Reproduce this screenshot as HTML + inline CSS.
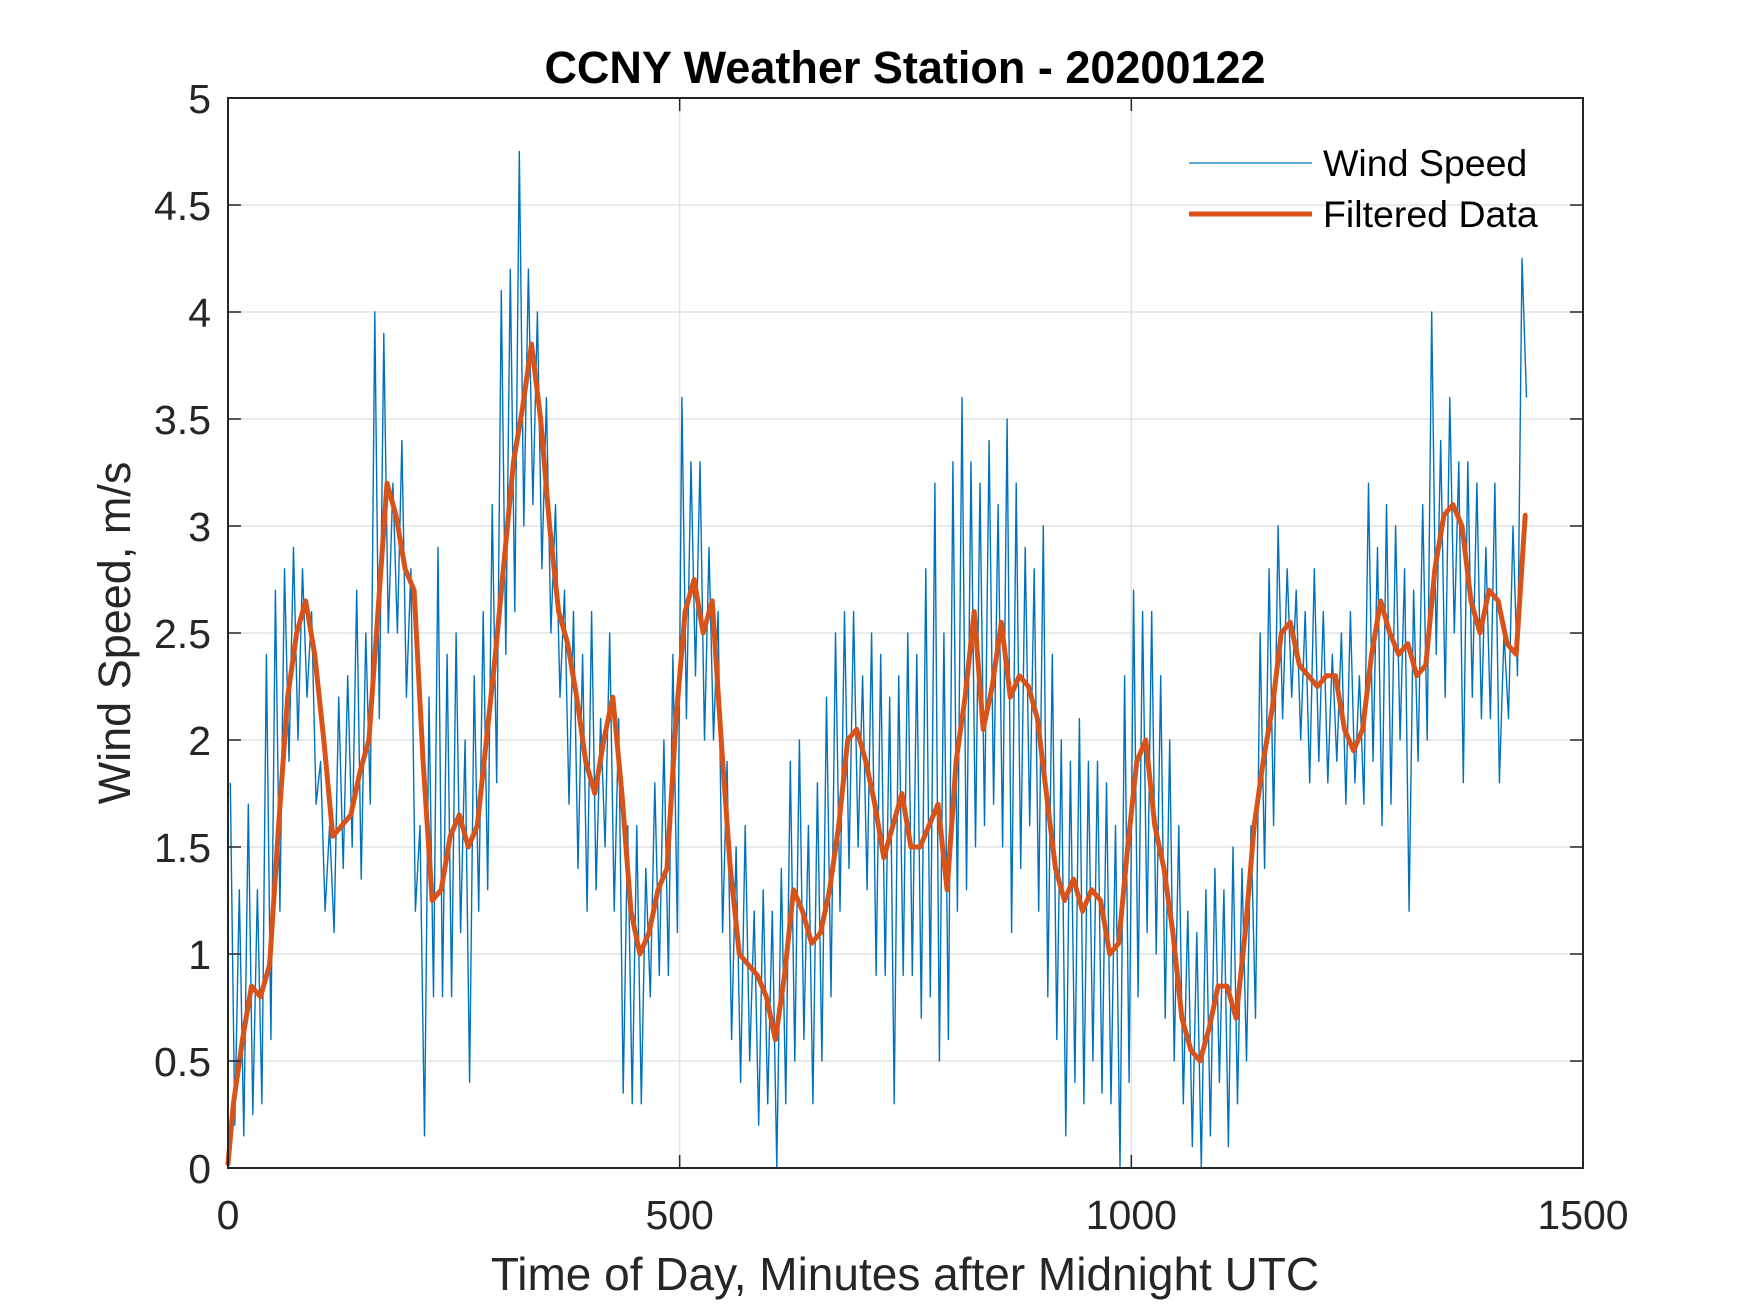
<!DOCTYPE html>
<html><head><meta charset="utf-8"><style>
html,body{margin:0;padding:0;background:#fff;}
svg{display:block;font-family:"Liberation Sans",Arial,sans-serif;}
</style></head><body>
<svg id="chart" width="1750" height="1313" viewBox="0 0 1750 1313" xmlns="http://www.w3.org/2000/svg">
<rect width="1750" height="1313" fill="#fff"/>
<g id="grid"></g>
<g id="series"></g>
<g id="axes"></g>
<text x="905" y="83" text-anchor="middle" font-size="45" font-weight="bold" fill="#000">CCNY Weather Station - 20200122</text>
<text x="905" y="1290" text-anchor="middle" font-size="46" fill="#262626">Time of Day, Minutes after Midnight UTC</text>
<text transform="translate(130,633) rotate(-90)" text-anchor="middle" font-size="45" fill="#262626">Wind Speed, m/s</text>
<g>
<line x1="1189" y1="163" x2="1312" y2="163" stroke="#0072BD" stroke-width="1.3"/>
<text x="1323" y="176" font-size="37.5" fill="#000">Wind Speed</text>
<line x1="1189" y1="214" x2="1312" y2="214" stroke="#D95319" stroke-width="5"/>
<text x="1323" y="227" font-size="37.5" fill="#000">Filtered Data</text>
</g>
</svg>
<script>
const xTicks = [0, 500, 1000, 1500];
const yTicks = [0, 0.5, 1, 1.5, 2, 2.5, 3, 3.5, 4, 4.5, 5];
const yTickLabels = ["0","0.5","1","1.5","2","2.5","3","3.5","4","4.5","5"];
const rawBinStart = 0, rawBinWidth = 10;
const rawHigh = [1.8,1.3,1.7,1.3,2.4,2.7,2.8,2.9,2.8,2.6,1.9,1.6,2.2,2.3,2.7,2.5,4.0,3.9,3.2,3.4,2.8,1.6,2.2,2.9,2.4,2.5,2.0,2.3,2.6,3.1,4.1,4.2,4.75,4.2,4.0,3.6,3.1,2.7,2.6,2.4,2.6,2.1,2.5,2.1,1.6,1.6,1.4,1.8,2.0,2.4,3.6,3.3,3.3,2.9,2.6,1.9,1.5,1.6,1.2,1.3,1.2,1.4,1.9,2.0,1.6,1.8,2.2,2.5,2.6,2.6,2.3,2.5,2.4,2.2,2.3,2.5,2.4,2.8,3.2,2.5,3.3,3.6,3.3,3.2,3.4,3.1,3.5,3.2,2.9,2.8,3.0,2.4,2.0,1.9,2.1,1.9,1.9,1.8,1.6,2.3,2.7,2.6,2.6,2.3,2.0,1.6,1.2,1.1,1.3,1.4,1.3,1.5,1.4,1.6,2.5,2.8,3.0,2.8,2.7,2.6,2.8,2.6,2.4,2.5,2.6,2.3,3.2,2.9,3.1,3.0,2.8,2.7,3.1,4.0,3.4,3.6,3.3,3.3,3.2,2.9,3.2,2.5,3.0,4.25];
const rawLow = [0.2,0.15,0.25,0.3,0.6,1.2,1.9,2.0,2.2,1.7,1.2,1.1,1.4,1.5,1.35,1.7,2.1,2.5,2.5,2.2,1.2,0.15,0.8,0.8,0.8,1.1,0.4,1.2,1.3,1.8,2.4,2.6,3.0,3.1,2.8,2.5,2.2,1.7,1.4,1.2,1.3,1.5,1.2,0.35,0.3,0.3,0.8,0.9,0.9,1.1,2.1,2.3,2.0,2.0,1.1,0.6,0.4,0.5,0.2,0.3,0.0,0.3,0.5,0.6,0.3,0.5,0.8,1.2,1.4,1.5,1.3,0.9,0.9,0.3,0.9,0.9,0.7,0.8,0.5,0.6,1.2,1.3,1.5,1.6,1.7,1.5,1.1,1.4,1.6,1.2,0.8,0.6,0.15,0.4,0.3,0.5,0.35,0.3,0.0,0.4,0.8,1.1,1.0,0.7,0.5,0.3,0.1,0.0,0.15,0.4,0.1,0.3,0.5,0.7,1.4,1.6,2.1,2.2,2.0,1.8,1.9,1.8,1.9,1.7,1.8,1.7,1.9,1.6,1.7,2.0,1.2,1.9,2.0,2.4,2.2,2.5,1.8,2.2,2.1,2.1,1.8,2.1,2.3,3.6];
const filtStart = -4, filtStep = 10;
const filtValues = [0.02,0.3,0.6,0.85,0.8,0.95,1.6,2.2,2.5,2.65,2.4,2.0,1.55,1.6,1.65,1.85,2.0,2.6,3.2,3.05,2.8,2.7,1.9,1.25,1.3,1.55,1.65,1.5,1.6,2.0,2.4,2.85,3.3,3.55,3.85,3.5,3.0,2.6,2.45,2.2,1.9,1.75,2.0,2.2,1.75,1.2,1.0,1.1,1.3,1.4,2.1,2.6,2.75,2.5,2.65,2.0,1.4,1.0,0.95,0.9,0.8,0.6,0.9,1.3,1.2,1.05,1.1,1.3,1.6,2.0,2.05,1.9,1.7,1.45,1.6,1.75,1.5,1.5,1.6,1.7,1.3,1.9,2.2,2.6,2.05,2.25,2.55,2.2,2.3,2.25,2.1,1.75,1.4,1.25,1.35,1.2,1.3,1.25,1.0,1.05,1.5,1.9,2.0,1.6,1.4,1.1,0.7,0.55,0.5,0.65,0.85,0.85,0.7,1.1,1.6,1.9,2.15,2.5,2.55,2.35,2.3,2.25,2.3,2.3,2.05,1.95,2.05,2.4,2.65,2.5,2.4,2.45,2.3,2.35,2.8,3.05,3.1,3.0,2.65,2.5,2.7,2.65,2.45,2.4,3.05];

const L=228,R=1583,T=98,B=1168;
const xs = v => L + (v-0)/(1500-0)*(R-L);
const ys = v => B - (v-0)/(5-0)*(B-T);
const NS="http://www.w3.org/2000/svg";
function mk(tag, attrs, parent){const e=document.createElementNS(NS,tag);for(const k in attrs)e.setAttribute(k,attrs[k]);parent.appendChild(e);return e;}
const grid=document.getElementById('grid'), axes=document.getElementById('axes'), series=document.getElementById('series');

xTicks.forEach((t,i)=>{
  const X=xs(t);
  if(t>0&&t<1500){const g=mk('line',{x1:X,y1:T,x2:X,y2:B,stroke:'#e3e3e3','stroke-width':1.5},grid);
  
  }
  const a=mk('line',{x1:X,y1:B,x2:X,y2:B-13,stroke:'#262626','stroke-width':1.5},axes);
  
  
  const b=mk('line',{x1:X,y1:T,x2:X,y2:T+13,stroke:'#262626','stroke-width':1.5},axes);
  
  
  const tx=mk('text',{x:X,y:1229,'text-anchor':'middle','font-size':41,fill:'#262626'},axes);
  tx.textContent=String(t);
  
  
});
yTicks.forEach((t,i)=>{
  const Y=ys(t);
  if(t>0&&t<5){const g=mk('line',{x1:L,y1:Y,x2:R,y2:Y,stroke:'#e3e3e3','stroke-width':1.5},grid);
  
  }
  const a=mk('line',{x1:L,y1:Y,x2:L+13,y2:Y,stroke:'#262626','stroke-width':1.5},axes);
  
  
  const b=mk('line',{x1:R,y1:Y,x2:R-13,y2:Y,stroke:'#262626','stroke-width':1.5},axes);
  
  
  const tx=mk('text',{x:211,y:Y+15,'text-anchor':'end','font-size':41,fill:'#262626'},axes);
  tx.textContent=yTickLabels[i];
  
  
});
const frame=mk('rect',{x:L,y:T,width:R-L,height:B-T,fill:'none',stroke:'#262626','stroke-width':2},axes);



let pts=[];
rawHigh.forEach((h,i)=>{
  const t0=rawBinStart+i*rawBinWidth;
  pts.push(xs(t0+2.5).toFixed(1)+','+ys(h).toFixed(1));
  pts.push(xs(t0+7.5).toFixed(1)+','+ys(rawLow[i]).toFixed(1));
});
const raw=mk('polyline',{points:pts.join(' '),fill:'none',stroke:'#0072BD','stroke-width':1.4,'stroke-linejoin':'round'},series);



let fp=filtValues.map((v,i)=>xs(Math.max(0,filtStart+i*filtStep)).toFixed(1)+','+ys(v).toFixed(1));
const filt=mk('polyline',{points:fp.join(' '),fill:'none',stroke:'#D95319','stroke-width':5,'stroke-linejoin':'round','stroke-linecap':'round'},series);


</script>
</body></html>
